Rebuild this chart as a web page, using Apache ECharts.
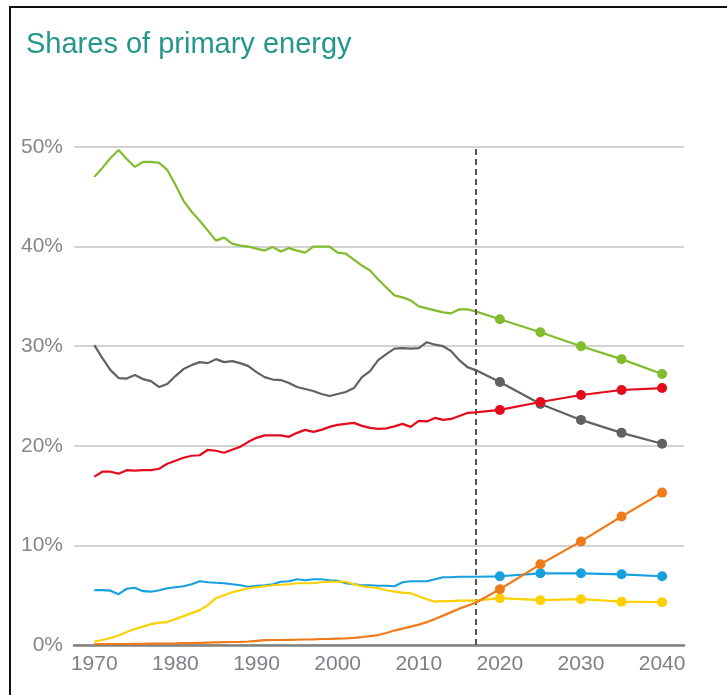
<!DOCTYPE html>
<html>
<head>
<meta charset="utf-8">
<script src="https://cdn.jsdelivr.net/npm/echarts@6/dist/echarts.min.js"></script>
<style>
  html, body { margin: 0; padding: 0; background: #fff; }
  #chart { position: absolute; left: 0; top: 0; width: 727px; height: 695px; }
  #frame { position: absolute; left: 9px; top: 6px; width: 740px; height: 720px;
    border-left: 2px solid #111; border-top: 2px solid #111; pointer-events: none; }
</style>
</head>
<body>
<div id="frame"></div>
<div id="chart"></div>
<script>
// historical years + outlook years
const histYears = [1970, 1971, 1972, 1973, 1974, 1975, 1976, 1977, 1978, 1979,
  1980, 1981, 1982, 1983, 1984, 1985, 1986, 1987, 1988, 1989,
  1990, 1991, 1992, 1993, 1994, 1995, 1996, 1997, 1998, 1999,
  2000, 2001, 2002, 2003, 2004, 2005, 2006, 2007, 2008, 2009,
  2010, 2011, 2012, 2013, 2014, 2015, 2016, 2017]
const projYears = [2020, 2025, 2030, 2035, 2040]
const xLabels = [1970, 1980, 1990, 2000, 2010, 2020, 2030, 2040]
const outlookStart = 2017

// shares in %
const oilHist = [47.0, 47.9, 48.9, 49.7, 48.8, 48.0, 48.5, 48.5, 48.4, 47.7,
  46.2, 44.6, 43.5, 42.6, 41.6, 40.6, 40.9, 40.3, 40.1, 40.0,
  39.8, 39.6, 39.95, 39.5, 39.85, 39.6, 39.4, 40.0, 40.0, 40.0,
  39.4, 39.3, 38.7, 38.1, 37.6, 36.7, 35.9, 35.1, 34.9, 34.6,
  34.0, 33.8, 33.6, 33.4, 33.3, 33.7, 33.7, 33.5]
const oilProj = [32.7, 31.4, 30.0, 28.7, 27.2]

const coalHist = [30.1, 28.8, 27.6, 26.8, 26.75, 27.1, 26.7, 26.5, 25.9, 26.2,
  27.0, 27.7, 28.1, 28.4, 28.3, 28.7, 28.4, 28.5, 28.3, 28.0,
  27.4, 26.9, 26.65, 26.6, 26.3, 25.9, 25.7, 25.5, 25.2, 25.0,
  25.2, 25.4, 25.8, 26.9, 27.5, 28.6, 29.2, 29.75, 29.8, 29.75,
  29.8, 30.4, 30.15, 30.0, 29.5, 28.6, 27.9, 27.6]
const coalProj = [26.4, 24.2, 22.6, 21.3, 20.2]

const gasHist = [16.9, 17.4, 17.4, 17.2, 17.55, 17.5, 17.55, 17.55, 17.7, 18.2,
  18.5, 18.8, 19.0, 19.05, 19.6, 19.5, 19.3, 19.6, 19.9, 20.4,
  20.8, 21.05, 21.05, 21.05, 20.9, 21.3, 21.6, 21.4, 21.6, 21.9,
  22.1, 22.2, 22.3, 22.0, 21.8, 21.7, 21.75, 21.95, 22.2, 21.9,
  22.5, 22.45, 22.8, 22.6, 22.7, 23.0, 23.3, 23.35]
const gasProj = [23.6, 24.4, 25.1, 25.6, 25.8]

const hydroHist = [5.5, 5.5, 5.45, 5.1, 5.65, 5.75, 5.4, 5.35, 5.5, 5.7,
  5.8, 5.9, 6.1, 6.4, 6.3, 6.25, 6.2, 6.1, 6.0, 5.85,
  5.95, 6.0, 6.1, 6.35, 6.4, 6.6, 6.5, 6.6, 6.6, 6.5,
  6.45, 6.2, 6.1, 6.0, 6.0, 5.95, 5.95, 5.9, 6.3, 6.4,
  6.4, 6.4, 6.6, 6.8, 6.8, 6.85, 6.85, 6.85]
const hydroProj = [6.9, 7.2, 7.2, 7.1, 6.9]

const nuclearHist = [0.35, 0.5, 0.7, 0.95, 1.3, 1.6, 1.85, 2.1, 2.25, 2.3,
  2.6, 2.9, 3.2, 3.5, 4.0, 4.7, 5.0, 5.3, 5.5, 5.7,
  5.8, 5.9, 6.0, 6.05, 6.1, 6.2, 6.2, 6.2, 6.3, 6.35,
  6.35, 6.35, 6.1, 5.9, 5.8, 5.7, 5.5, 5.35, 5.25, 5.2,
  4.9, 4.6, 4.35, 4.4, 4.4, 4.45, 4.45, 4.45]
const nuclearProj = [4.7, 4.5, 4.6, 4.35, 4.3]

const renewHist = [0.1, 0.1, 0.1, 0.1, 0.1, 0.12, 0.12, 0.13, 0.14, 0.15,
  0.16, 0.18, 0.2, 0.22, 0.24, 0.26, 0.28, 0.3, 0.32, 0.35,
  0.42, 0.48, 0.5, 0.5, 0.52, 0.53, 0.55, 0.57, 0.6, 0.62,
  0.65, 0.67, 0.72, 0.8, 0.9, 1.0, 1.2, 1.45, 1.65, 1.85,
  2.05, 2.3, 2.6, 2.95, 3.3, 3.65, 3.95, 4.25]
const renewProj = [5.6, 8.1, 10.4, 12.9, 15.3]

const fuels = [
  { name: "Oil", color: "#82bc2c", hist: oilHist, proj: oilProj },
  { name: "Coal", color: "#616161", hist: coalHist, proj: coalProj },
  { name: "Gas", color: "#e30b1c", hist: gasHist, proj: gasProj },
  { name: "Hydro", color: "#17a0de", hist: hydroHist, proj: hydroProj },
  { name: "Nuclear", color: "#fdd100", hist: nuclearHist, proj: nuclearProj },
  { name: "Renewables", color: "#ef7b1a", hist: renewHist, proj: renewProj },
]

const buildData = (f) => {
  const d = histYears.map((y, i) => [y, f.hist[i]])
  projYears.forEach((y, i) => d.push([y, f.proj[i]]))
  return d
}

const series = fuels.map((f, idx) => {
  const s = {
    name: f.name,
    type: "line",
    data: buildData(f),
    showSymbol: true,
    symbol: (value) => (value[0] > outlookStart ? "circle" : "none"),
    symbolSize: 10,
    lineStyle: { width: 2.2, color: f.color },
    itemStyle: { color: f.color },
    emphasis: { disabled: true },
    z: 3 + idx,
  }
  if (idx === 0) {
    // 画 outlook 分界虚线
    s.markLine = {
      silent: true,
      symbol: "none",
      label: { show: false },
      lineStyle: { type: [6, 4], color: "#555", width: 2 },
      data: [{ xAxis: outlookStart }],
    }
  }
  return s
})

const option = {
  animation: false,
  title: {
    text: "Shares of primary energy",
    left: 21,
    top: 25,
    textStyle: {
      color: "#24968c",
      fontSize: 29,
      fontWeight: "normal",
      fontFamily: "Liberation Sans",
    },
  },
  grid: {
    left: 74,
    right: 43,
    top: 147,
    bottom: 50,
  },
  xAxis: {
    type: "value",
    min: 1967.5,
    max: 2042.7,
    splitLine: { show: false },
    axisTick: { show: false },
    axisLine: { lineStyle: { color: "#808080", width: 2.5 } },
    axisLabel: {
      customValues: xLabels,
      formatter: (v) => String(v),
      color: "#7f7f86",
      fontSize: 21,
      fontFamily: "Liberation Sans",
      margin: 9,
    },
  },
  yAxis: {
    type: "value",
    min: 0,
    max: 50,
    interval: 10,
    axisLine: { show: false },
    axisTick: { show: false },
    splitLine: { lineStyle: { color: "#d2d2d2", width: 2 } },
    axisLabel: {
      formatter: "{value}%",
      color: "#86868c",
      fontSize: 21,
      fontFamily: "Liberation Sans",
      margin: 11,
    },
  },
  series: series,
}

const chart = echarts.init(document.getElementById("chart"))
chart.setOption(option)
</script>
</body>
</html>
